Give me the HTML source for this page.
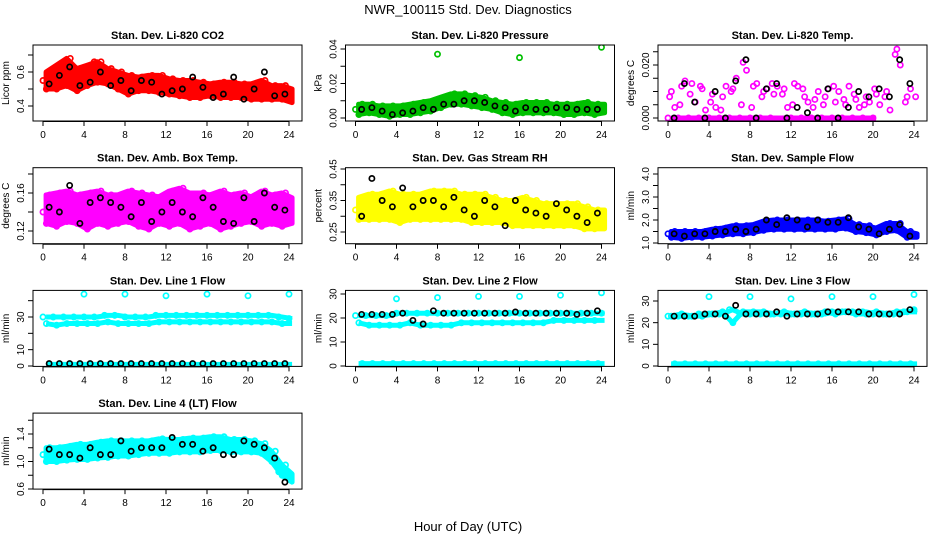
<!DOCTYPE html>
<html><head><meta charset="utf-8">
<style>
body{margin:0;background:#fff;}
svg{display:block;font-family:"Liberation Sans",Arial,sans-serif;}
</style></head>
<body>
<svg id="chart" width="936" height="540" viewBox="0 0 936 540" xmlns="http://www.w3.org/2000/svg">
<text x="468" y="14" text-anchor="middle" font-size="13">NWR_100115  Std. Dev. Diagnostics</text>
<text x="468" y="531" text-anchor="middle" font-size="13">Hour of Day (UTC)</text>
</svg>
<script>
// ---- data (hourly values, 0..24) ----
const hours=[0,1,2,3,4,5,6,7,8,9,10,11,12,13,14,15,16,17,18,19,20,21,22,23,24];
const co2Red1=[.55,.58,.60,.57,.62,.66,.58,.60,.52,.55,.56,.54,.52,.50,.53,.50,.48,.52,.50,.47,.49,.50,.48,.47,.45];
const co2Red2=[.50,.50,.52,.49,.52,.54,.53,.50,.47,.49,.49,.48,.47,.46,.45,.45,.46,.45,.45,.45,.44,.44,.44,.44,.42];
const co2Red3=[.60,.64,.68,.62,.64,.66,.62,.60,.58,.57,.58,.58,.56,.55,.55,.54,.53,.54,.54,.53,.53,.55,.52,.52,.50];
const co2Black=[.53,.58,.63,.52,.54,.60,.52,.55,.49,.55,.54,.47,.49,.50,.57,.51,.45,.47,.57,.44,.50,.60,.46,.47,.52];
const presGreen1=[.005,.006,.004,.005,.006,.005,.007,.008,.009,.011,.012,.010,.009,.008,.007,.006,.007,.006,.005,.006,.004,.005,.006,.005,.005];
const presGreen2=[.002,.003,.002,.001,.002,.002,.003,.004,.006,.008,.008,.007,.006,.005,.003,.002,.003,.003,.003,.003,.002,.002,.003,.002,.003];
const presGreen3=[.008,.008,.007,.007,.007,.008,.009,.010,.012,.014,.014,.013,.012,.010,.009,.008,.009,.009,.009,.008,.008,.008,.009,.008,.008];
const presOutHours=[8,16,24];
const presOut=[.037,.035,.041];
const presBlack=[.005,.006,.004,.002,.003,.004,.006,.005,.008,.008,.010,.010,.009,.007,.006,.004,.006,.005,.005,.006,.006,.005,.005,.005,.005];
const tempZero=[0,0,0,0,0,0,0,0,0,0,0,null,0,0,0,0,0,0,0,0,0,null,null,null,null];
const tempMag1=[.010,.012,.013,.011,.009,.008,.011,.021,.012,.010,.009,.011,.013,.008,.007,.008,.006,.005,.007,.008,.009,.010,.026,.008,.007];
const tempMag2=[.004,.014,.006,.003,.004,.012,.015,.018,.013,.011,.012,.004,.012,.006,.010,.011,.010,.012,.004,.006,.005,.003,.020,.011,.009];
const tempMag3=[.008,.005,.009,.012,.006,.003,.010,.005,.004,.008,.013,.009,.005,.011,.004,.005,.012,.007,.009,.005,.011,.008,.024,.006,.008];
const tempBlack=[.000,.013,.006,.000,.010,.000,.014,.022,.000,.011,.013,.000,.004,.002,.000,.011,.000,.004,.010,.008,.011,.008,.022,.013,.009];
const ambMag1=[.140,.150,.145,.155,.140,.150,.145,.150,.140,.145,.150,.145,.150,.140,.160,.145,.150,.140,.145,.150,.140,.145,.150,.140,.145];
const ambMag2=[.128,.125,.130,.128,.122,.128,.125,.128,.130,.125,.122,.128,.125,.128,.122,.125,.128,.122,.125,.128,.130,.125,.128,.125,.128];
const ambMag3=[.158,.160,.162,.158,.160,.162,.158,.158,.162,.160,.158,.156,.162,.165,.158,.160,.158,.162,.158,.160,.156,.162,.158,.160,.155];
const ambBlack=[.145,.140,.168,.128,.150,.155,.150,.145,.135,.150,.130,.140,.150,.140,.135,.155,.145,.130,.128,.155,.130,.160,.145,.142,.115];
const rhYel1=[.32,.34,.33,.35,.32,.34,.33,.35,.36,.34,.33,.32,.34,.33,.32,.31,.33,.32,.31,.30,.32,.31,.30,.29,.30];
const rhYel2=[.29,.29,.29,.29,.28,.29,.29,.29,.29,.29,.29,.28,.28,.28,.28,.27,.27,.27,.27,.27,.27,.27,.26,.26,.26];
const rhYel3=[.36,.37,.37,.38,.37,.37,.37,.38,.38,.38,.37,.37,.37,.36,.35,.35,.36,.35,.34,.34,.34,.34,.33,.32,.32];
const rhBlack=[.30,.42,.35,.33,.39,.33,.35,.35,.33,.36,.32,.30,.35,.33,.27,.35,.32,.31,.30,.34,.32,.30,.28,.31,.26];
const flowBlue1=[1.4,1.4,1.4,1.4,1.5,1.5,1.6,1.6,1.6,1.7,1.8,1.8,1.8,1.8,1.8,1.8,1.8,1.9,1.7,1.6,1.5,1.7,1.7,1.4,1.3];
const flowBlue2=[1.25,1.2,1.25,1.25,1.3,1.35,1.4,1.4,1.45,1.55,1.6,1.6,1.6,1.6,1.6,1.6,1.6,1.65,1.5,1.45,1.35,1.5,1.55,1.25,1.25];
const flowBlue3=[1.5,1.5,1.5,1.5,1.6,1.65,1.75,1.75,1.8,1.95,2.0,2.0,2.0,2.0,2.0,1.95,2.0,2.05,1.8,1.75,1.65,1.85,1.85,1.5,1.4];
const flowBlack=[1.4,1.3,1.4,1.4,1.5,1.5,1.6,1.5,1.6,2.0,1.8,2.1,2.0,1.7,2.0,1.9,1.9,2.1,1.7,1.6,1.4,1.6,1.8,1.3,1.35];
const outlierHours=[4,8,12,16,20,24];
const l1Cyan1=[30,30,30,30,30,30,31,31,30,30,30,31,31,31,31,31,31,31,31,31,31,31,31,30,29];
const l1Cyan2=[26,25,26,26,26,26,27,26,26,26,26,27,27,27,27,27,27,27,27,27,27,27,27,26,26];
const l1Cyan3=[1,1,1,1,1,1,1,1,1,1,1,1,1,1,1,1,1,1,1,1,1,1,1,1,1];
const l1Out=[44,44,43,44,43,44];
const l1Black=[1.5,1.5,1.5,1.5,1.5,1.5,1.5,1.5,1.5,1.5,1.5,1.5,1.5,1.5,1.5,1.5,1.5,1.5,1.5,1.5,1.5,1.5,1.5,1.5,1.5];
const l2Cyan1=[21,21,21,21,22,22,22,22,22,22,22,22,22,22,22,22,22,22,22,22,22,22,22,22,22];
const l2Cyan2=[18,17,17,17,17,18,17,17,17,17,18,18,18,18,18,18,18,18,18,19,19,19,19,19,19];
const l2Cyan3=[1,1,1,1,1,1,1,1,1,1,1,1,1,1,1,1,1,1,1,1,1,1,1,1,1];
const l2Out=[28,28.5,29,29,29.5,30.5];
const l2Black=[21.5,21.5,21.5,21.5,22,19,17.5,23,22,22,22,22,22,22,22,22.5,22,22,22,22,22,21.5,22,23,22];
const l3Cyan1=[23,23,23,24,24,24,26,24,24,24,24,24,24,24,24,24,25,25,25,25,24,24,24,25,26];
const l3Cyan2=[23,24,23,23,24,25,20,25,25,25,24,25,24,25,24,25,24,25,24,24,25,24,25,25,25];
const l3Cyan3=[1,1,1,1,1,1,1,1,1,1,1,1,1,1,1,1,1,1,1,1,1,1,1,1,1];
const l3Out=[32,32,31,32,32,33];
const l3Black=[23,23,23,24,24,23,28,24,24,24,25,23,24,24,24,25,25,25,25,24,24,24,24,26,25];
const l4Cyan1=[1.1,1.1,1.15,1.15,1.15,1.2,1.2,1.2,1.2,1.2,1.2,1.25,1.25,1.25,1.25,1.25,1.3,1.3,1.25,1.25,1.2,1.2,1.1,0.85,0.75];
const l4Cyan2=[1.0,1.0,1.02,1.03,1.03,1.05,1.06,1.08,1.08,1.1,1.12,1.12,1.12,1.14,1.14,1.14,1.16,1.16,1.14,1.14,1.14,1.12,1.0,0.8,0.70];
const l4Cyan3=[1.2,1.2,1.22,1.25,1.25,1.28,1.3,1.3,1.3,1.3,1.3,1.33,1.32,1.32,1.34,1.34,1.36,1.36,1.32,1.32,1.3,1.26,1.15,0.95,0.82];
const l4Black=[1.18,1.1,1.1,1.05,1.2,1.1,1.1,1.3,1.15,1.2,1.2,1.2,1.35,1.25,1.25,1.15,1.2,1.1,1.1,1.3,1.25,1.2,1.05,0.7,0.75];
const xTicks=[0,4,8,12,16,20,24];

const NS="http://www.w3.org/2000/svg";
const svg=document.getElementById('chart');
function mk(tag,attrs,parent){const e=document.createElementNS(NS,tag);for(const k in attrs)e.setAttribute(k,attrs[k]);(parent||svg).appendChild(e);return e;}

const panels=[
 {name:'co2',title:'Stan. Dev. Li-820 CO2',ylab:'Licor ppm',col:0,row:0,v1:.4,p1:106,v2:.6,p2:72,ticks:[.4,.5,.6,.7],labels:[.4,.6],fmt:1,band:true,
  layers:[['#ff0000',co2Red1],['#ff0000',co2Red2],['#ff0000',co2Red3]],black:co2Black},
 {name:'pressure',title:'Stan. Dev. Li-820 Pressure',ylab:'kPa',col:1,row:0,v1:0,p1:118,v2:.04,p2:49,ticks:[0,.01,.02,.03,.04],labels:[0,.02,.04],fmt:2,band:true,
  layers:[['#00c000',presGreen1],['#00c000',presGreen2],['#00c000',presGreen3]],outH:presOutHours,out:presOut,outC:'#00c000',black:presBlack},
 {name:'temp',title:'Stan. Dev. Li-820 Temp.',ylab:'degrees C',col:2,row:0,v1:0,p1:118,v2:.02,p2:65,ticks:[0,.005,.01,.015,.02,.025,.03],labels:[0,.02],fmt:3,lines:[0],
  layers:[['#ff00ff',tempZero],['#ff00ff',tempMag1],['#ff00ff',tempMag2],['#ff00ff',tempMag3]],black:tempBlack},
 {name:'amb-box-temp',title:'Stan. Dev. Amb. Box Temp.',ylab:'degrees C',col:0,row:1,v1:.12,p1:231,v2:.18,p2:174,ticks:[.12,.14,.16,.18],labels:[.12,.16],fmt:2,band:true,
  layers:[['#ff00ff',ambMag1],['#ff00ff',ambMag2],['#ff00ff',ambMag3]],black:ambBlack},
 {name:'gas-rh',title:'Stan. Dev. Gas Stream RH',ylab:'percent',col:1,row:1,v1:.25,p1:232,v2:.45,p2:169,ticks:[.25,.3,.35,.4,.45],labels:[.25,.35,.45],fmt:2,band:true,
  layers:[['#ffff00',rhYel1],['#ffff00',rhYel2],['#ffff00',rhYel3]],black:rhBlack},
 {name:'sample-flow',title:'Stan. Dev. Sample Flow',ylab:'ml/min',col:2,row:1,v1:1,p1:243,v2:4,p2:174,ticks:[1,1.5,2,2.5,3,3.5,4],labels:[1,2,3,4],fmt:1,band:true,
  layers:[['#0000ff',flowBlue1],['#0000ff',flowBlue2],['#0000ff',flowBlue3]],black:flowBlack},
 {name:'line1-flow',title:'Stan. Dev. Line 1 Flow',ylab:'ml/min',col:0,row:2,v1:0,p1:366,v2:30,p2:317,ticks:[0,10,20,30,40],labels:[0,10,30],fmt:0,lines:[0,1,2],
  layers:[['#00ffff',l1Cyan1],['#00ffff',l1Cyan2],['#00ffff',l1Cyan3]],outH:outlierHours,out:l1Out,outC:'#00ffff',black:l1Black,dense:true},
 {name:'line2-flow',title:'Stan. Dev. Line 2 Flow',ylab:'ml/min',col:1,row:2,v1:0,p1:366,v2:30,p2:294,ticks:[0,10,20,30],labels:[0,10,20,30],fmt:0,lines:[0,1,2],
  layers:[['#00ffff',l2Cyan1],['#00ffff',l2Cyan2],['#00ffff',l2Cyan3]],outH:outlierHours,out:l2Out,outC:'#00ffff',black:l2Black},
 {name:'line3-flow',title:'Stan. Dev. Line 3 Flow',ylab:'ml/min',col:2,row:2,v1:0,p1:366,v2:30,p2:301,ticks:[0,10,20,30],labels:[0,10,20,30],fmt:0,lines:[0,1,2],
  layers:[['#00ffff',l3Cyan1],['#00ffff',l3Cyan2],['#00ffff',l3Cyan3]],outH:outlierHours,out:l3Out,outC:'#00ffff',black:l3Black},
 {name:'line4-flow',title:'Stan. Dev. Line 4 (LT) Flow',ylab:'ml/min',col:0,row:3,v1:.6,p1:489,v2:1.4,p2:434,ticks:[.6,.8,1,1.2,1.4,1.6],labels:[.6,1,1.4],fmt:1,band:true,
  layers:[['#00ffff',l4Cyan1],['#00ffff',l4Cyan2],['#00ffff',l4Cyan3]],black:l4Black}
];
const offsets=[0,0.33,0.66,0.16];

panels.forEach(p=>{
  const x0=43+312.5*p.col, top=45+122.7*p.row, bot=top+76;
  const L=x0-10, R=x0+259;
  const xs=h=>x0+h*246/24;
  const ys=v=>p.p1+(v-p.v1)*(p.p2-p.p1)/(p.v2-p.v1);
  const g=mk('g',{});
  
  
  const clipId='clip-'+p.name;
  const cp=mk('clipPath',{id:clipId},g);
  mk('rect',{x:L,y:top,width:R-L,height:bot-top},cp);
  const marks=mk('g',{'clip-path':'url(#'+clipId+')'},g);
  
  
  const col=p.layers[0][0];
  if(p.band){
    const up=[],lo=[];
    hours.forEach((h,i)=>{
      const vals=p.layers.map(l=>l[1][i]).filter(v=>v!==null);
      up.push(xs(h+0.3)+','+ys(Math.max(...vals)));
      lo.unshift(xs(h+0.3)+','+ys(Math.min(...vals)));
    });
    const band=mk('polygon',{points:up.concat(lo).join(' '),fill:col,stroke:col,'stroke-width':5,'stroke-linejoin':'round'},marks);
    
    
  }
  (p.lines||[]).forEach(li=>{
    const pts=[];
    p.layers[li][1].forEach((v,i)=>{ if(v!==null) pts.push(xs(hours[i]+0.3)+','+ys(v)); });
    const pl=mk('polyline',{points:pts.join(' '),fill:'none',stroke:col,'stroke-width':5,'stroke-linejoin':'round'},marks);
    
    
  });
  p.layers.forEach((ly,li)=>{
    ly[1].forEach((v,i)=>{
      if(v===null)return;
      const t=hours[i]+offsets[li%4];
      if(t>24.2)return;
      const c=mk('circle',{cx:xs(t),cy:ys(v),r:2.6,fill:'none',stroke:ly[0],'stroke-width':1.7},marks);
      
      
    });
  });
  if(p.out){
    p.out.forEach((v,i)=>{
      const c=mk('circle',{cx:xs(p.outH[i]),cy:ys(v),r:2.6,fill:'none',stroke:p.outC,'stroke-width':1.7},marks);
      
      
    });
  }
  p.black.forEach((v,i)=>{
    const t=hours[i]+0.6; if(t>24)return;
    const c=mk('circle',{cx:xs(Math.min(t,23.8)),cy:ys(v),r:2.6,fill:'none',stroke:'#000','stroke-width':1.7},marks);
    
    
  });
  const box=mk('rect',{x:L,y:top,width:R-L,height:bot-top,fill:'none',stroke:'#000','stroke-width':1},g);
  
  
  const tt=mk('text',{x:(L+R)/2,y:top-6,'text-anchor':'middle','font-size':11,'font-weight':'bold'},g);
  tt.textContent=p.title;
  
  
  const yl=mk('text',{x:0,y:0,'text-anchor':'middle','font-size':10,transform:`translate(${L-24},${(top+bot)/2}) rotate(-90)`},g);
  yl.textContent=p.ylab;
  
  
  xTicks.forEach(h=>{
    mk('line',{x1:xs(h),x2:xs(h),y1:bot,y2:bot+5,stroke:'#000'},g);
    const tl=mk('text',{x:xs(h),y:bot+17,'text-anchor':'middle','font-size':10},g);
    tl.textContent=h;
    
    
  });
  mk('line',{x1:xs(0),x2:xs(24),y1:bot+0.5,y2:bot+0.5,stroke:'#000'},g);
  p.ticks.forEach(v=>{
    const y=ys(v); if(y<top-1||y>bot+1)return;
    mk('line',{x1:L-5,x2:L,y1:y,y2:y,stroke:'#000'},g);
  });
  p.labels.forEach(v=>{
    const y=ys(v);
    const tl=mk('text',{x:0,y:0,'text-anchor':'middle','font-size':10,transform:`translate(${L-9},${y}) rotate(-90)`},g);
    tl.textContent=v.toFixed(p.fmt);
    
    
  });
});
</script>
</body></html>
